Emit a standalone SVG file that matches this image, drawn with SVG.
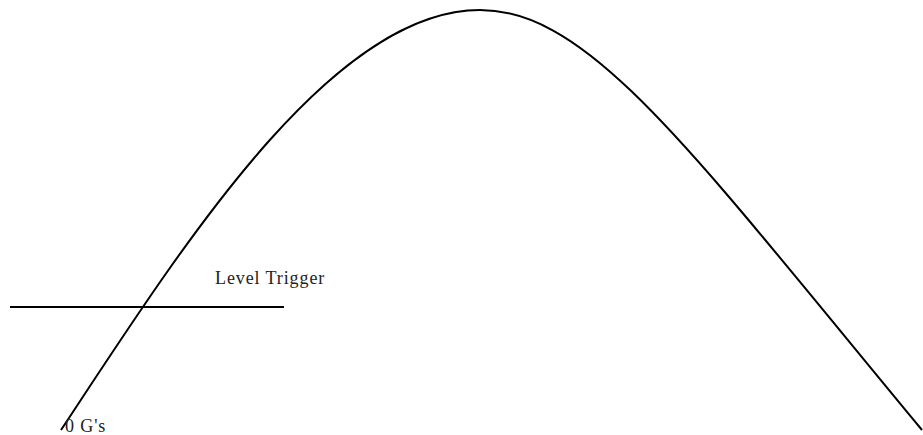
<svg xmlns="http://www.w3.org/2000/svg" width="923" height="435" viewBox="0 0 923 435">
<style>
.ln{fill:none;stroke:#000;stroke-width:2}
.t{font-family:"Liberation Serif",serif;font-size:18px;letter-spacing:0.9px;fill:#222}
</style>
<rect width="923" height="435" fill="#fff"/>
<g id="connectors">
<path class="ln" d="M61,430 C180,250 330,10 480,10 C590,10 690,150 922,430"/>
<line class="ln" x1="10" y1="307" x2="284" y2="307"/>
</g>
<g id="trigger"><text class="t" x="215" y="284">Level Trigger</text></g>
<g id="zero"><text class="t" x="65" y="432">0 G's</text></g>
</svg>
